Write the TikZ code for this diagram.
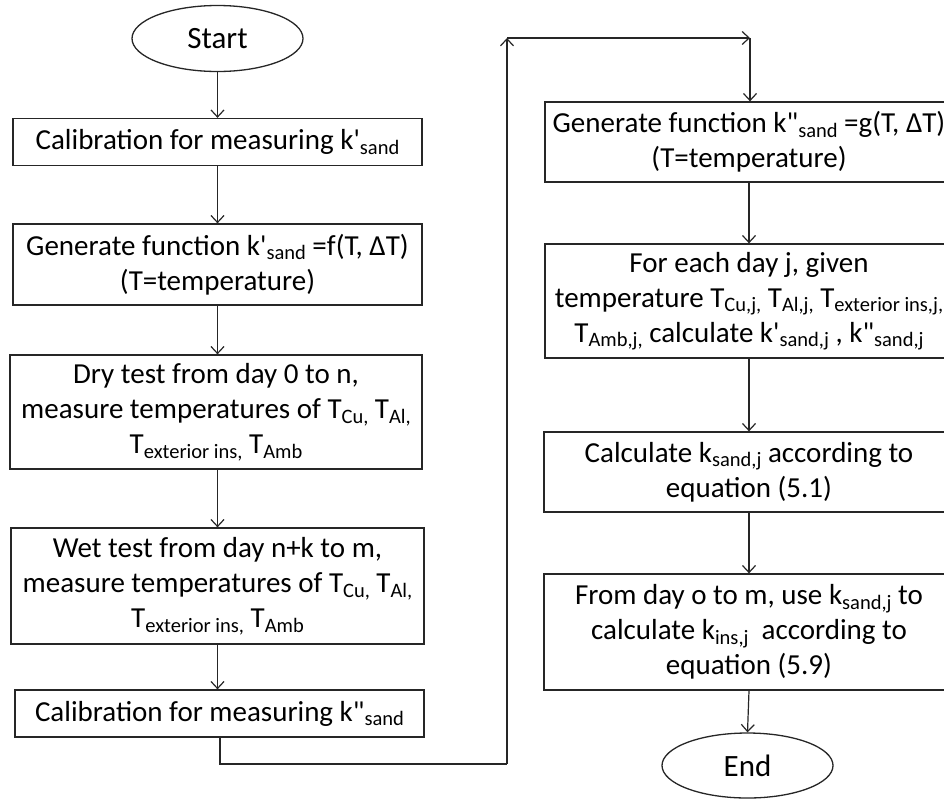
\documentclass[tikz,border=0pt]{standalone}
\usepackage{fontspec}
\setmainfont{Carlito}[Ligatures=TeXOff]
\usetikzlibrary{shapes.geometric,arrows.meta}
\newcommand\sbs[1]{\raisebox{-4.5pt}{\fontsize{20.5}{20.5}\selectfont #1}}
\tikzset{
  flowbox/.style={draw=black!85, line width=1.3pt, rectangle, inner sep=0pt, align=center,
    font=\fontsize{29}{35}\selectfont},
  termbox/.style={draw=black!85, line width=1.3pt, ellipse, inner sep=0pt,
    minimum width=171pt, minimum height=66pt, font=\fontsize{31}{35}\selectfont},
  flowarrow/.style={draw=black!85, line width=1.2pt, -{Straight Barb[length=7pt,width=13pt,line width=1.2pt]}},
  flowline/.style={draw=black!85, line width=1.2pt}
}
\begin{document}
\begin{tikzpicture}[x=1pt,y=-1pt]
\useasboundingbox (0,0) rectangle (944,801);
\clip (0,0) rectangle (944,801);
% left column
\node[termbox] (start) at (217.5,38.5) {Start};
\node[flowbox, minimum width=409pt, minimum height=47pt] (b1) at (217.5,142)
  {Calibration for measuring k'\sbs{sand}};
\node[flowbox, minimum width=409pt, minimum height=81pt] (b2) at (217.5,264.5)
  {Generate function k'\sbs{sand} =f(T, ΔT)\\(T=temperature)};
\node[flowbox, minimum width=412pt, minimum height=114pt] (b3) at (216,412)
  {Dry test from day 0 to n,\\measure temperatures of T\sbs{Cu,} T\sbs{Al,}\\T\sbs{exterior ins,} T\sbs{Amb}};
\node[flowbox, minimum width=413pt, minimum height=116pt] (b4) at (217.5,586)
  {Wet test from day n+k to m,\\measure temperatures of T\sbs{Cu,} T\sbs{Al,}\\T\sbs{exterior ins,} T\sbs{Amb}};
\node[flowbox, minimum width=409pt, minimum height=47pt] (b5) at (219.5,713.5)
  {Calibration for measuring k"\sbs{sand}};
% right column
\node[flowbox, minimum width=408pt, minimum height=80pt] (b6) at (749,142)
  {Generate function k"\sbs{sand} =g(T, ΔT)\\(T=temperature)};
\node[flowbox, minimum width=408pt, minimum height=114pt] (b7) at (749,301)
  {For each day j, given\\temperature T\sbs{Cu,j,} T\sbs{Al,j,} T\sbs{exterior ins,j,}\\T\sbs{Amb,j,} calculate k'\sbs{sand,j} , k"\sbs{sand,j}};
\node[flowbox, minimum width=410pt, minimum height=80pt] (b8) at (749,472)
  {Calculate k\sbs{sand,j} according to\\equation (5.1)};
\node[flowbox, minimum width=410pt, minimum height=116pt] (b9) at (749,632)
  {From day o to m, use k\sbs{sand,j} to\\calculate k\sbs{ins,j}\ \ according to\\equation (5.9)};
\node[termbox, minimum height=65pt] (end) at (747.5,765.5) {End};
% connectors
\coordinate (c1) at (220,764);
\coordinate (c2) at (507,764);
\coordinate (c3) at (507,38);
\coordinate (c4) at (750,38);
\draw[flowarrow] (start.south) -- (b1.north);
\draw[flowarrow] (b1.south) -- (b2.north);
\draw[flowarrow] (b2.south) -- (b3.north -| b2.south);
\draw[flowarrow] (b3.south -| b2.south) -- (b4.north -| b2.south);
\draw[flowarrow] (b4.south -| b2.south) -- (b5.north -| b2.south);
\draw[flowline] (b5.south -| c1) -- (c1) -- (c2);
\draw[flowarrow] (c2) -- (c3);
\draw[flowarrow] (c3) -- (c4);
\draw[flowarrow] (c4) -- (b6.north -| c4);
\draw[flowarrow] (b6.south) -- (b7.north);
\draw[flowarrow] (b7.south) -- (b8.north);
\draw[flowarrow] (b8.south) -- (b9.north);
\draw[flowarrow] (b9.south) -- (end.north);
\end{tikzpicture}
\end{document}
